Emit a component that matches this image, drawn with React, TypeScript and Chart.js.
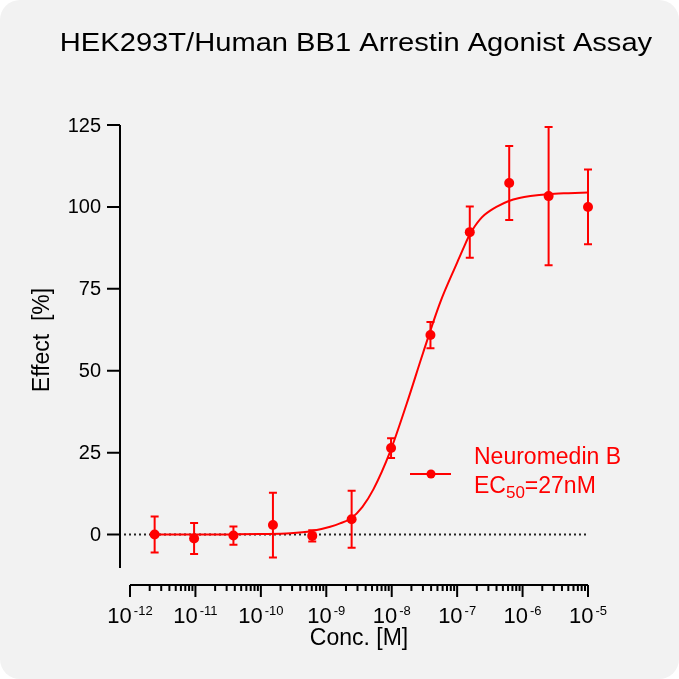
import { useEffect, useRef } from "react";
import { Chart, registerables, Plugin } from "chart.js";

Chart.register(...registerables);

// measured points (mean +/- error), concentration in M
const concentrations = [2.38e-12, 9.54e-12, 3.81e-11, 1.53e-10, 6.1e-10, 2.44e-9, 9.77e-9, 3.91e-8, 1.56e-7, 6.25e-7, 2.5e-6, 1e-5];
const effectMean = [0, -1.2, -0.3, 2.9, -0.4, 4.7, 26.4, 60.9, 92.3, 107.3, 103.3, 100];
const effectError = [5.5, 4.7, 2.8, 9.9, 1.7, 8.7, 3.0, 4.0, 7.8, 11.3, 21.1, 11.4];

// fitted curve (log10 conc, effect)
const fitLogConc = [-11.62, -11, -10.5, -10, -9.55, -9.22, -8.94, -8.79, -8.62, -8.45, -8.28, -8.03, -7.77, -7.52, -7.26, -7.0, -6.9, -6.81, -6.73, -6.65, -6.58, -6.5, -6.4, -6.21, -6.05, -5.88, -5.61, -5.3, -5.0];
const fitEffect = [0, 0, 0.05, 0.15, 0.4, 1.1, 2.4, 3.4, 5.0, 8.4, 13.8, 25, 40, 55.5, 70.8, 83, 87.6, 91.5, 94.1, 96.2, 97.6, 98.8, 100.0, 101.8, 102.7, 103.3, 103.9, 104.2, 104.4];

const yTicks = [0, 25, 50, 75, 100, 125];
const xDecades = [-12, -11, -10, -9, -8, -7, -6, -5];

const title = "HEK293T/Human BB1 Arrestin Agonist Assay";
const yTitle = "Effect  [%]";
const xTitle = "Conc. [M]";
const seriesName = "Neuromedin B";
const ec50Label = "27nM";

const RED = "#ff0000";
const FONT = "'Liberation Sans', Arial, sans-serif";

const prismAxes: Plugin = {
  id: "prismAxes",
  beforeDatasetsDraw(chart) {
    const { ctx } = chart;
    const x = chart.scales.x;
    const y = chart.scales.y;
    const axisX = x.left - 10;

    ctx.save();
    // dotted zero line
    ctx.strokeStyle = "#222";
    ctx.lineWidth = 2;
    ctx.setLineDash([2, 3]);
    ctx.beginPath();
    ctx.moveTo(axisX + 4, y.getPixelForValue(0));
    ctx.lineTo(x.right, y.getPixelForValue(0));
    ctx.stroke();
    ctx.setLineDash([]);

    // error bars
    ctx.strokeStyle = RED;
    ctx.lineWidth = 2;
    concentrations.forEach((c, i) => {
      const px = x.getPixelForValue(c);
      const top = y.getPixelForValue(effectMean[i] + effectError[i]);
      const bot = y.getPixelForValue(effectMean[i] - effectError[i]);
      ctx.beginPath();
      ctx.moveTo(px, top);
      ctx.lineTo(px, bot);
      ctx.moveTo(px - 4, top);
      ctx.lineTo(px + 4, top);
      ctx.moveTo(px - 4, bot);
      ctx.lineTo(px + 4, bot);
      ctx.stroke();
    });
    ctx.restore();
  },
  afterDraw(chart) {
    const { ctx } = chart;
    const x = chart.scales.x;
    const y = chart.scales.y;
    const axisX = x.left - 10;
    const axisY = y.bottom + 17;

    ctx.save();
    ctx.strokeStyle = "#000";
    ctx.fillStyle = "#000";
    ctx.lineWidth = 2;

    // y axis
    ctx.beginPath();
    ctx.moveTo(axisX, y.top);
    ctx.lineTo(axisX, y.bottom);
    yTicks.forEach((t) => {
      const py = y.getPixelForValue(t);
      ctx.moveTo(axisX - 13, py);
      ctx.lineTo(axisX, py);
    });
    ctx.stroke();

    ctx.font = `20px ${FONT}`;
    ctx.textAlign = "right";
    ctx.textBaseline = "middle";
    yTicks.forEach((t) => {
      ctx.fillText(String(t), axisX - 19, y.getPixelForValue(t) + 1);
    });

    // x axis
    ctx.beginPath();
    ctx.moveTo(x.left, axisY);
    ctx.lineTo(x.right, axisY);
    xDecades.forEach((d, i) => {
      const px = x.getPixelForValue(10 ** d);
      ctx.moveTo(px, axisY);
      ctx.lineTo(px, axisY + 12);
      if (i < xDecades.length - 1) {
        for (let m = 2; m <= 9; m++) {
          const mx = x.getPixelForValue(m * 10 ** d);
          ctx.moveTo(mx, axisY);
          ctx.lineTo(mx, axisY + 6);
        }
      }
    });
    ctx.stroke();

    ctx.textBaseline = "alphabetic";
    ctx.textAlign = "left";
    xDecades.forEach((d) => {
      const px = x.getPixelForValue(10 ** d);
      const exp = String(d);
      ctx.font = `22px ${FONT}`;
      const wBase = ctx.measureText("10").width;
      ctx.font = `13px ${FONT}`;
      const wExp = ctx.measureText(exp).width;
      const start = px - (wBase + wExp + 2) / 2;
      ctx.font = `22px ${FONT}`;
      ctx.fillText("10", start, axisY + 38);
      ctx.font = `13px ${FONT}`;
      ctx.fillText(exp, start + wBase + 2, axisY + 30);
    });

    // axis titles
    ctx.font = `23px ${FONT}`;
    ctx.textAlign = "center";
    ctx.fillText(xTitle, (x.left + x.right) / 2, axisY + 60);

    ctx.save();
    ctx.translate(49, 340);
    ctx.rotate(-Math.PI / 2);
    ctx.font = `23px ${FONT}`;
    ctx.textBaseline = "alphabetic";
    ctx.fillText(yTitle, 0, 0);
    ctx.restore();

    // chart title (reference glyphs are a bit wider)
    ctx.save();
    ctx.translate(356, 51);
    ctx.scale(1.12, 1);
    ctx.font = `26px ${FONT}`;
    ctx.textAlign = "center";
    ctx.fillText(title, 0, 0);
    ctx.restore();

    // legend
    ctx.strokeStyle = RED;
    ctx.fillStyle = RED;
    ctx.beginPath();
    ctx.moveTo(410, 474);
    ctx.lineTo(451, 474);
    ctx.stroke();
    ctx.beginPath();
    ctx.arc(431, 474, 4.5, 0, Math.PI * 2);
    ctx.fill();

    ctx.textAlign = "left";
    ctx.font = `23px ${FONT}`;
    ctx.fillText(seriesName, 474, 464);
    ctx.fillText("EC", 474, 493);
    let cx = 474 + ctx.measureText("EC").width;
    ctx.font = `17px ${FONT}`;
    ctx.fillText("50", cx, 498);
    cx += ctx.measureText("50").width;
    ctx.font = `23px ${FONT}`;
    ctx.fillText("=" + ec50Label, cx, 493);
    ctx.restore();
  },
};

const App = () => {
  const canvasRef = useRef<HTMLCanvasElement>(null);

  useEffect(() => {
    const ctx = canvasRef.current?.getContext("2d");
    if (!ctx) return;

    const chart = new Chart(ctx, {
      type: "scatter",
      data: {
        datasets: [
          {
            label: seriesName,
            data: concentrations.map((c, i) => ({ x: c, y: effectMean[i] })),
            backgroundColor: RED,
            borderColor: RED,
            pointRadius: 5,
            pointBorderWidth: 0,
            clip: 12,
            order: 0,
          },
          {
            label: "fit",
            data: fitLogConc.map((l, i) => ({ x: 10 ** l, y: fitEffect[i] })),
            showLine: true,
            borderColor: RED,
            borderWidth: 2,
            pointRadius: 0,
            cubicInterpolationMode: "monotone",
            clip: 4,
            order: 1,
          },
        ],
      },
      options: {
        animation: false,
        responsive: true,
        maintainAspectRatio: false,
        layout: { padding: { left: 130, right: 91, top: 125, bottom: 111 } },
        plugins: {
          legend: { display: false },
          title: { display: false },
          tooltip: { enabled: false },
        },
        scales: {
          x: { type: "logarithmic", min: 1e-12, max: 1e-5, display: false },
          y: { type: "linear", min: -10.2, max: 125, display: false },
        },
      },
      plugins: [prismAxes],
    });

    return () => chart.destroy();
  }, []);

  return (
    <div
      style={{
        position: "absolute",
        left: 0,
        top: 0,
        width: "679px",
        height: "679px",
        background: "#f2f2f2",
        borderRadius: "20px",
      }}
    >
      <canvas ref={canvasRef} />
    </div>
  );
};

export default App;
